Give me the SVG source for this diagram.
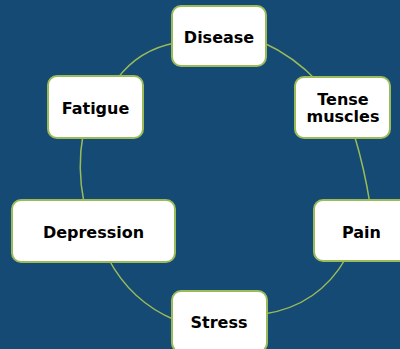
<svg xmlns="http://www.w3.org/2000/svg" width="400" height="349" viewBox="0 0 400 349">
<style>
.bg{fill:#154a74}
.box{fill:#ffffff;stroke:#9bbb59;stroke-width:2}
.lbl{font-family:"DejaVu Sans",Verdana,sans-serif;font-weight:bold;font-size:16px;fill:#000000;text-anchor:middle}
.conn{fill:none;stroke:#9bbb59;stroke-width:1.5}
</style>
<rect class="bg" x="0" y="0" width="400" height="349"/>
<g id="connectors">
<path class="conn" d="M262,42 Q294,56.4 318,82"/>
<path class="conn" d="M354,134 Q364.4,168.4 370,204"/>
<path class="conn" d="M346,258 Q318.6,305.8 264,314"/>
<path class="conn" d="M175,320 Q130.9,301.6 108,258"/>
<path class="conn" d="M84,203 Q77,167 83,135"/>
<path class="conn" d="M117,79 Q139,49.6 175,43"/>
</g>
<g id="disease"><rect class="box" x="172" y="6" width="94" height="60" rx="9"/><text class="lbl" x="219" y="42.5">Disease</text></g>
<g id="tense"><rect class="box" x="295" y="77" width="95" height="61" rx="9"/><text class="lbl" x="343" y="104.5">Tense</text><text class="lbl" x="343" y="122">muscles</text></g>
<g id="pain"><rect class="box" x="314" y="200" width="95" height="61" rx="9"/><text class="lbl" x="361.5" y="237.5">Pain</text></g>
<g id="stress"><rect class="box" x="172" y="291" width="95" height="61" rx="9"/><text class="lbl" x="219" y="327.5">Stress</text></g>
<g id="depression"><rect class="box" x="12" y="200" width="163" height="62" rx="9"/><text class="lbl" x="93.5" y="237.5">Depression</text></g>
<g id="fatigue"><rect class="box" x="48" y="76" width="95" height="62" rx="9"/><text class="lbl" x="95.5" y="114">Fatigue</text></g>
</svg>
